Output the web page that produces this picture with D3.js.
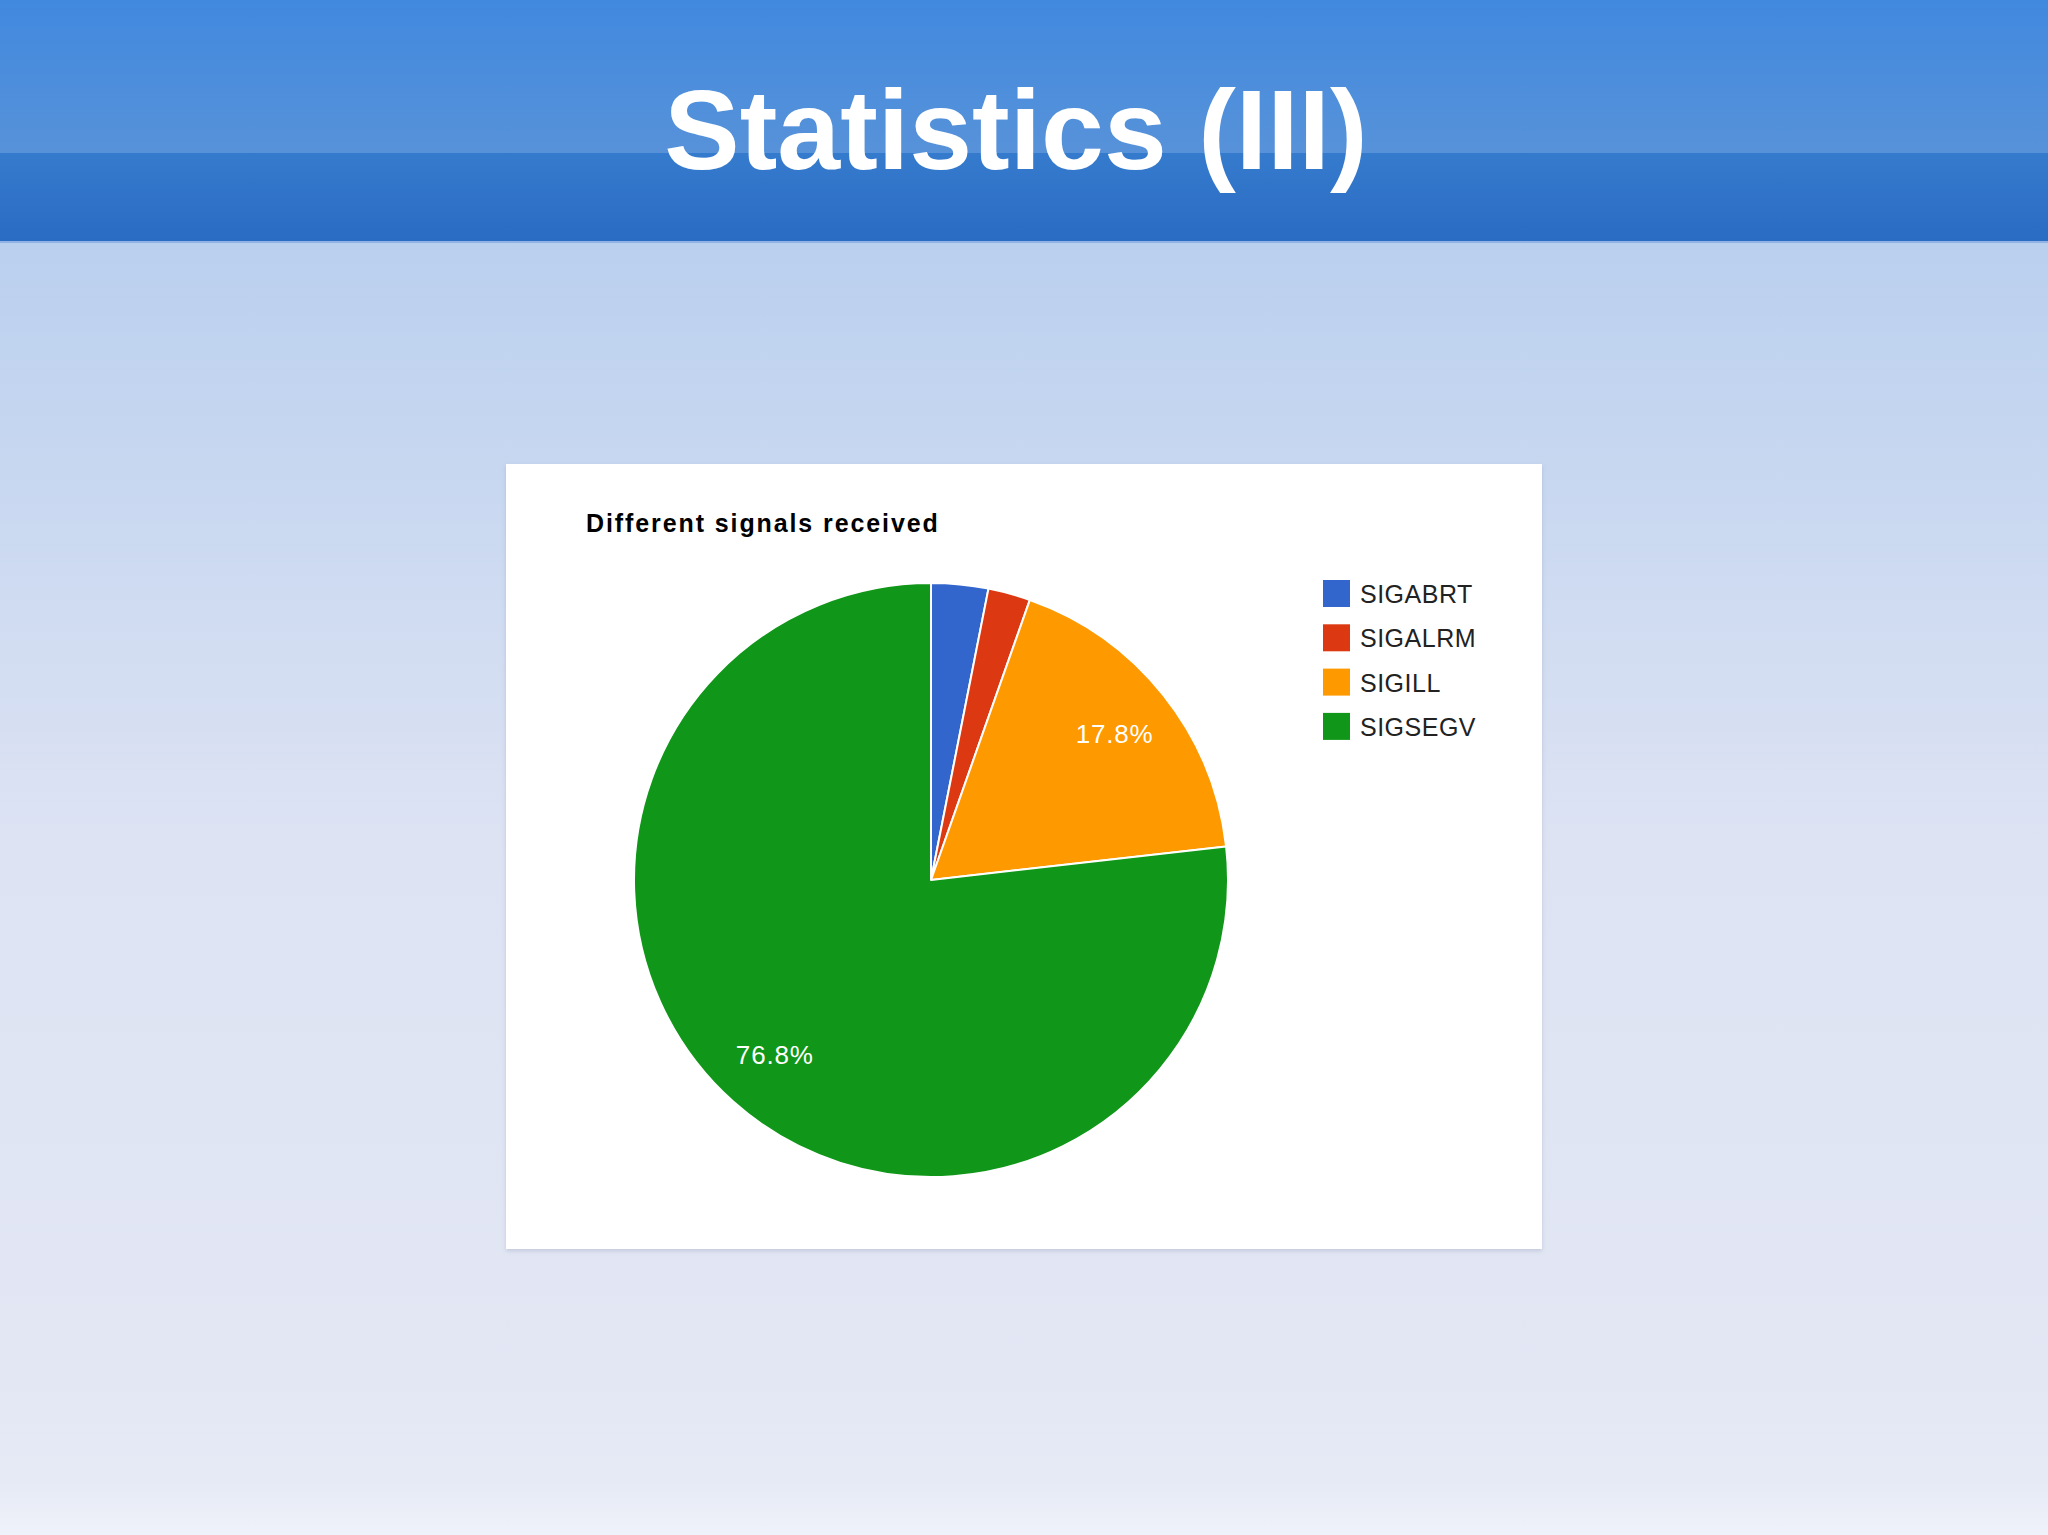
<!DOCTYPE html>
<html>
<head>
<meta charset="utf-8">
<script src="https://cdn.jsdelivr.net/npm/d3@7"></script>
<style>
html,body{margin:0;padding:0;background:#e2e6f3;}
svg{display:block;}
</style>
</head>
<body>
<svg id="chart" width="2048" height="1535"></svg>
<script>
const pageTitle = "Statistics (III)";
const chartTitle = "Different signals received";
const categories = ["SIGABRT", "SIGALRM", "SIGILL", "SIGSEGV"];
const values = [3.1, 2.3, 17.8, 76.8];
const colors = ["#3366cc", "#dc3912", "#ff9900", "#109618"];
const showLabel = [false, false, true, true];

const svg = d3.select("#chart");
const defs = svg.append("defs");

const bg = defs.append("linearGradient").attr("id","bg").attr("x1",0).attr("y1",0).attr("x2",0).attr("y2",1);
[[0,"#a9c6eb"],[0.2,"#bed2ef"],[0.55,"#dde3f3"],[0.9,"#e3e7f4"],[0.965,"#e6eaf5"],[1,"#eff2fa"]]
  .forEach(([o,c])=>bg.append("stop").attr("offset",o).attr("stop-color",c));
const h1 = defs.append("linearGradient").attr("id","h1").attr("x1",0).attr("y1",0).attr("x2",0).attr("y2",1);
[[0,"#4189df"],[1,"#5792d9"]].forEach(([o,c])=>h1.append("stop").attr("offset",o).attr("stop-color",c));
const h2 = defs.append("linearGradient").attr("id","h2").attr("x1",0).attr("y1",0).attr("x2",0).attr("y2",1);
[[0,"#357bcd"],[1,"#2a6bc3"]].forEach(([o,c])=>h2.append("stop").attr("offset",o).attr("stop-color",c));
const sh = defs.append("filter").attr("id","sh").attr("x","-5%").attr("y","-5%").attr("width","110%").attr("height","110%");
sh.append("feDropShadow").attr("dx",0).attr("dy",2).attr("stdDeviation",2).attr("flood-color","#8890a8").attr("flood-opacity",0.35);

svg.append("rect").attr("x",0).attr("y",0).attr("width",2048).attr("height",1535).attr("fill","url(#bg)");
svg.append("rect").attr("x",0).attr("y",0).attr("width",2048).attr("height",153).attr("fill","url(#h1)");
svg.append("rect").attr("x",0).attr("y",153).attr("width",2048).attr("height",89).attr("fill","url(#h2)");
svg.append("rect").attr("x",0).attr("y",241).attr("width",2048).attr("height",2).attr("fill","#8fb3e3");

svg.append("text").attr("x",1016).attr("y",169).attr("text-anchor","middle")
  .attr("font-family","Liberation Sans, Arial, sans-serif").attr("font-weight","bold")
  .attr("font-size",113).attr("fill","#ffffff").text(pageTitle);

// chart panel
svg.append("rect").attr("x",506).attr("y",464).attr("width",1036).attr("height",785)
  .attr("fill","#ffffff").attr("filter","url(#sh)");

svg.append("text").attr("x",586).attr("y",532)
  .attr("font-family","Liberation Sans, Arial, sans-serif").attr("font-weight","bold")
  .attr("font-size",25).attr("fill","#000").attr("letter-spacing",1.9).text(chartTitle);

const cx = 931, cy = 880, r = 297;
const pie = d3.pie().sort(null).value(d=>d.v);
const data = pie(categories.map((c,i)=>({c, v: values[i], col: colors[i], lab: showLabel[i]})));
const arc = d3.arc().innerRadius(0).outerRadius(r);
const labelArc = d3.arc().innerRadius(r*0.79).outerRadius(r*0.79);
const g = svg.append("g").attr("transform",`translate(${cx},${cy})`);
g.selectAll("path").data(data).join("path")
  .attr("d",arc).attr("fill",d=>d.data.col).attr("stroke","#ffffff").attr("stroke-width",2).attr("stroke-linejoin","round");
g.selectAll("text").data(data.filter(d=>d.data.lab)).join("text")
  .attr("transform",d=>`translate(${labelArc.centroid(d)})`)
  .attr("text-anchor","middle").attr("dy","0.36em")
  .attr("font-family","Liberation Sans, Arial, sans-serif").attr("font-size",26)
  .attr("letter-spacing",0.8).attr("fill","#ffffff")
  .text(d=>d.data.v.toFixed(1)+"%");

// legend
const leg = svg.append("g").attr("transform","translate(1323,580)");
const li = leg.selectAll("g").data(categories).join("g").attr("transform",(d,i)=>`translate(0,${i*44.3})`);
li.append("rect").attr("width",27).attr("height",27).attr("fill",(d,i)=>colors[i]);
li.append("text").attr("x",37).attr("y",23)
  .attr("font-family","Liberation Sans, Arial, sans-serif").attr("font-size",25)
  .attr("letter-spacing",0.5).attr("fill","#222222").text(d=>d);
</script>
</body>
</html>
